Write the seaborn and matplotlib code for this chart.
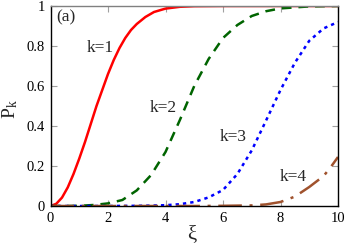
import numpy as np
import pandas as pd
import matplotlib
matplotlib.use("Agg")
import matplotlib.pyplot as plt
import seaborn as sns

# ---- data ----
k1_x = [0, 0.2, 0.4, 0.6, 0.8, 1.0, 1.2, 1.4, 1.6, 1.8, 2.0, 2.2, 2.4, 2.6, 2.8, 3.0, 3.3, 3.6, 4.0, 4.5, 5, 6, 7, 8, 9, 10]
k1_y = [0, 0.011, 0.042, 0.093, 0.16, 0.237, 0.32, 0.41, 0.50, 0.58, 0.66, 0.73, 0.79, 0.84, 0.88, 0.91, 0.945, 0.97, 0.987, 0.996, 0.999, 1, 1, 1, 1, 1]

k2_x = [0, 0.5, 1.0, 1.5, 2.0, 2.5, 3.0, 3.5, 4.0, 4.5, 5.0, 5.5, 6.0, 6.5, 7.0, 7.5, 8.0, 9.0, 10]
k2_y = [0, 0, 0.001, 0.005, 0.013, 0.03, 0.078, 0.155, 0.27, 0.43, 0.60, 0.735, 0.84, 0.905, 0.95, 0.974, 0.988, 0.998, 1.0]

k3_x = [0, 1, 2, 3, 3.5, 4, 4.5, 5, 5.5, 6, 6.5, 7, 7.5, 8, 8.5, 9, 9.5, 10]
k3_y = [0, 0, 0, 0.001, 0.002, 0.004, 0.009, 0.02, 0.043, 0.08, 0.16, 0.278, 0.428, 0.58, 0.716, 0.826, 0.888, 0.92]

k4_x = [0, 2, 4, 5, 6, 6.5, 7.0, 7.5, 8.0, 8.5, 9.0, 9.5, 9.75, 10]
k4_y = [0, 0, 0, 0, 0.001, 0.002, 0.003, 0.008, 0.02, 0.047, 0.095, 0.15, 0.195, 0.245]

labels = ["k=1", "k=2", "k=3", "k=4"]
label_pos_x = [1.72, 3.91, 6.35, 8.46]
label_pos_y = [0.79, 0.49, 0.345, 0.147]

x_ticks = [0, 2, 4, 6, 8, 10]
y_ticks = [0, 0.2, 0.4, 0.6, 0.8, 1]
y_tick_labels = ["0", "0.2", "0.4", "0.6", "0.8", "1"]

frames = []
for lab, xs, ys in zip(labels, [k1_x, k2_x, k3_x, k4_x], [k1_y, k2_y, k3_y, k4_y]):
    frames.append(pd.DataFrame({"xi": xs, "P": ys, "k": lab}))
df = pd.concat(frames, ignore_index=True)

sns.set_style("ticks")
SERIF = ["Liberation Serif", "DejaVu Serif"]
plt.rcParams["font.family"] = SERIF
plt.rcParams["font.serif"] = SERIF
plt.rcParams["mathtext.fontset"] = "custom"
plt.rcParams["mathtext.rm"] = "Liberation Serif"
plt.rcParams["mathtext.it"] = "Liberation Serif:italic"
plt.rcParams["lines.scale_dashes"] = False

palette = {"k=1": "#ff0000", "k=2": "#006400", "k=3": "#0000ff", "k=4": "#a0522d"}
dashes = {"k=1": "", "k=2": (7, 5), "k=3": (2.4, 2.9), "k=4": (17, 5.5, 2.2, 5.5)}

fig = plt.figure(figsize=(3.54, 2.48), dpi=100)
ax = fig.add_axes([50.5 / 354, 1 - 206 / 248, (338 - 50.5) / 354, 200 / 248])

sns.lineplot(data=df, x="xi", y="P", hue="k", style="k", palette=palette,
             dashes=dashes, estimator=None, sort=False, linewidth=1.8,
             legend=False, ax=ax)

ax.set_xlim(0, 10)
ax.set_ylim(0, 1)
ax.set_xticks(x_ticks)
ax.set_xticklabels([str(t) for t in x_ticks], family=SERIF)
ax.set_yticks(y_ticks)
ax.set_yticklabels(y_tick_labels, family=SERIF)
ax.tick_params(direction="in", length=4, width=0.8, color="#a0a0a0",
               labelsize=10.5, labelcolor="black", top=True, right=True, pad=4)

for side in ["left", "bottom", "right"]:
    ax.spines[side].set_color("black")
    ax.spines[side].set_linewidth(1.0)
ax.spines["top"].set_color("#808080")
ax.spines["top"].set_linewidth(1.0)

for lab, lx, ly in zip(labels, label_pos_x, label_pos_y):
    ax.text(lx, ly, lab, fontsize=12.5, ha="center", va="center", family=SERIF)
ax.text(0.54, 0.945, "(a)", fontsize=12.5, ha="center", va="center", family=SERIF)

ax.set_xlabel("ξ", fontsize=15, family=SERIF)
ax.set_ylabel(r"P$_\mathrm{k}$", fontsize=14, family=SERIF)
ax.xaxis.set_label_coords(0.492, -0.1425)
ax.xaxis.label.set_va("center")
ax.yaxis.set_label_coords(-0.141, 0.485)
ax.yaxis.label.set_va("center")

fig.savefig("out.png", dpi=100)
